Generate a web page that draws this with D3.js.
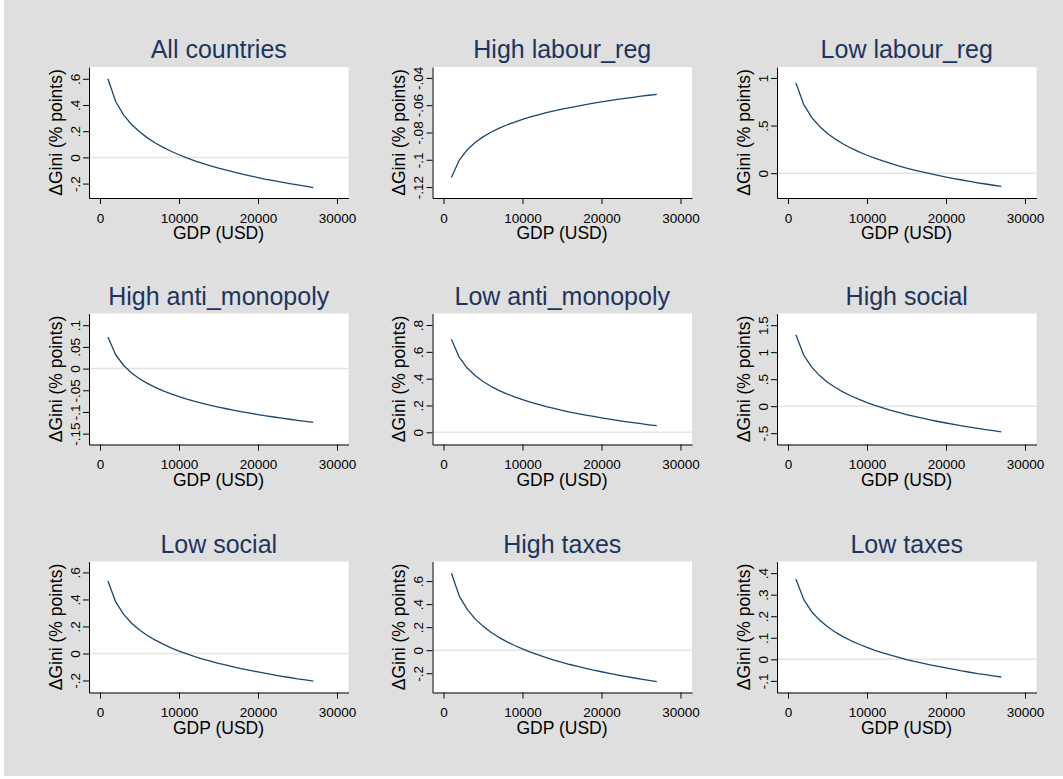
<!DOCTYPE html>
<html>
<head>
<meta charset="utf-8">
<style>
  body { margin: 0; background: #fff; }
  svg { display: block; font-family: Arial, "Liberation Sans", Helvetica, sans-serif; }
</style>
<script src="https://cdn.jsdelivr.net/npm/d3@7/dist/d3.min.js"></script>
</head>
<body>
<svg id="chart"></svg>
<script>
// panel titles, row by row
const titles = [
  "All countries", "High labour_reg", "Low labour_reg",
  "High anti_monopoly", "Low anti_monopoly", "High social",
  "Low social", "High taxes", "Low taxes"
]

const gdp = [1000, 2000, 3000, 4000, 5000, 6000, 7000, 8000, 9000, 10000,
  11000, 12000, 13000, 14000, 15000, 16000, 17000, 18000, 19000, 20000,
  21000, 22000, 23000, 24000, 25000, 26000, 27000]

// change in Gini
const allCountries = [0.600, 0.425, 0.323, 0.251, 0.195, 0.149, 0.110, 0.076, 0.047, 0.020,
  -0.004, -0.026, -0.046, -0.065, -0.082, -0.098, -0.113, -0.128, -0.141, -0.154,
  -0.167, -0.178, -0.189, -0.200, -0.210, -0.220, -0.230]
const highLabour = [-0.1130, -0.1002, -0.0927, -0.0874, -0.0832, -0.0798, -0.0770, -0.0745, -0.0724, -0.0704,
  -0.0686, -0.0670, -0.0655, -0.0642, -0.0629, -0.0617, -0.0606, -0.0595, -0.0585, -0.0576,
  -0.0567, -0.0558, -0.0550, -0.0542, -0.0534, -0.0527, -0.0520]
const lowLabour = [0.948, 0.719, 0.585, 0.491, 0.417, 0.357, 0.306, 0.262, 0.223, 0.188,
  0.157, 0.128, 0.102, 0.077, 0.054, 0.033, 0.013, -0.006, -0.024, -0.041,
  -0.057, -0.072, -0.087, -0.101, -0.114, -0.127, -0.140]
const highAntiMono = [0.0726, 0.0313, 0.0071, -0.0100, -0.0233, -0.0342, -0.0434, -0.0513, -0.0584, -0.0646,
  -0.0703, -0.0755, -0.0803, -0.0847, -0.0888, -0.0926, -0.0963, -0.0996, -0.1029, -0.1060,
  -0.1089, -0.1116, -0.1143, -0.1168, -0.1192, -0.1216, -0.1238]
const lowAntiMono = [0.694, 0.558, 0.479, 0.423, 0.379, 0.343, 0.313, 0.287, 0.264, 0.243,
  0.225, 0.208, 0.192, 0.178, 0.164, 0.151, 0.140, 0.128, 0.118, 0.108,
  0.098, 0.089, 0.080, 0.072, 0.064, 0.056, 0.049]
const highSocial = [1.321, 0.943, 0.722, 0.566, 0.444, 0.345, 0.261, 0.188, 0.124, 0.066,
  0.014, -0.033, -0.077, -0.117, -0.155, -0.190, -0.223, -0.254, -0.284, -0.312,
  -0.338, -0.364, -0.388, -0.411, -0.433, -0.455, -0.475]
const lowSocial = [0.536, 0.380, 0.289, 0.224, 0.174, 0.133, 0.099, 0.069, 0.042, 0.018,
  -0.003, -0.023, -0.041, -0.057, -0.073, -0.087, -0.101, -0.114, -0.126, -0.137,
  -0.148, -0.159, -0.169, -0.178, -0.188, -0.196, -0.205]
const highTaxes = [0.668, 0.470, 0.354, 0.272, 0.209, 0.156, 0.112, 0.074, 0.041, 0.011,
  -0.017, -0.041, -0.064, -0.086, -0.105, -0.124, -0.141, -0.157, -0.173, -0.187,
  -0.201, -0.215, -0.227, -0.239, -0.251, -0.262, -0.273]
const lowTaxes = [0.373, 0.277, 0.221, 0.182, 0.151, 0.126, 0.104, 0.086, 0.070, 0.055,
  0.042, 0.030, 0.019, 0.009, -0.001, -0.010, -0.018, -0.026, -0.033, -0.040,
  -0.047, -0.054, -0.060, -0.066, -0.071, -0.077, -0.082]

const series = [allCountries, highLabour, lowLabour, highAntiMono, lowAntiMono,
  highSocial, lowSocial, highTaxes, lowTaxes]

const yTicks = [
  [-0.2, 0, 0.2, 0.4, 0.6],
  [-0.12, -0.1, -0.08, -0.06, -0.04],
  [0, 0.5, 1],
  [-0.15, -0.1, -0.05, 0, 0.05, 0.1],
  [0, 0.2, 0.4, 0.6, 0.8],
  [-0.5, 0, 0.5, 1, 1.5],
  [-0.2, 0, 0.2, 0.4, 0.6],
  [-0.2, 0, 0.2, 0.4, 0.6],
  [-0.1, 0, 0.1, 0.2, 0.3, 0.4]
]

// y extent of each plot region (bottom, top)
const yRanges = [
  [-0.31, 0.69], [-0.128, -0.032], [-0.261, 1.115],
  [-0.175, 0.127], [-0.091, 0.886], [-0.71, 1.716],
  [-0.289, 0.681], [-0.367, 0.770], [-0.154, 0.454]
]

const xTicks = [0, 10000, 20000, 30000]
const xRange = [-1392, 31456]

const W = 1063, H = 779
const colLeft = [89, 432.5, 777]
const rowTop = [67, 313.5, 561.5]
const plotW = 259.5, plotH = 131

const titleColor = "#1c355e"
const lineColor = "#1a476f"

// Stata style numbers: .6, -.2, 1.5
function fmt(v) {
  const s = (+v.toFixed(4)).toString()
  return s.replace(/^(-?)0\./, "$1.")
}

const svg = d3.select("#chart")
  .attr("width", W)
  .attr("height", H)

svg.append("rect")
  .attr("x", 4)
  .attr("y", 0)
  .attr("width", W - 4)
  .attr("height", 776)
  .attr("fill", "#dfdfdf")

function panel(i) {
  const left = colLeft[i % 3]
  const top = rowTop[Math.floor(i / 3)]

  const x = d3.scaleLinear().domain(xRange).range([left, left + plotW])
  const y = d3.scaleLinear().domain(yRanges[i]).range([top + plotH, top])

  const g = svg.append("g").attr("class", "panel")

  g.append("rect")
    .attr("x", left)
    .attr("y", top)
    .attr("width", plotW)
    .attr("height", plotH)
    .attr("fill", "#fff")

  const [y0, y1] = yRanges[i]
  if (y0 < 0 && y1 > 0) {
    g.append("line")
      .attr("x1", left)
      .attr("x2", left + plotW)
      .attr("y1", y(0))
      .attr("y2", y(0))
      .attr("stroke", "#e4e4e4")
      .attr("stroke-width", 1.5)
  }

  const line = d3.line()
    .x(d => x(d[0]))
    .y(d => y(d[1]))

  g.append("path")
    .datum(gdp.map((v, j) => [v, series[i][j]]))
    .attr("fill", "none")
    .attr("stroke", lineColor)
    .attr("stroke-width", 1.3)
    .attr("stroke-linejoin", "round")
    .attr("d", line)

  // x axis
  const xAxis = g.append("g")
    .attr("transform", `translate(0, ${top + plotH})`)
    .call(d3.axisBottom(x)
      .tickValues(xTicks)
      .tickFormat(d3.format("d"))
      .tickSize(6)
      .tickSizeOuter(0)
      .tickPadding(9))
  xAxis.selectAll("text")
    .attr("font-size", 13.5)
    .attr("fill", "#000")
    .style("font-family", "Arial, 'Liberation Sans', sans-serif")

  // y axis, labels turned upright like Stata
  const yAxis = g.append("g")
    .attr("transform", `translate(${left}, 0)`)
    .call(d3.axisLeft(y)
      .tickValues(yTicks[i])
      .tickFormat(fmt)
      .tickSize(6)
      .tickSizeOuter(0))
  yAxis.selectAll("text")
    .attr("x", null)
    .attr("dy", null)
    .attr("text-anchor", "middle")
    .attr("transform", "translate(-9.5, 0) rotate(-90)")
    .attr("font-size", 13.5)
    .attr("fill", "#000")
    .style("font-family", "Arial, 'Liberation Sans', sans-serif")

  g.selectAll(".domain, .tick line").attr("stroke", "#000")

  g.append("text")
    .attr("x", left + plotW / 2)
    .attr("y", top - 9)
    .attr("text-anchor", "middle")
    .attr("font-size", 25)
    .attr("fill", titleColor)
    .text(titles[i])

  g.append("text")
    .attr("x", x(15000))
    .attr("y", top + plotH + 41)
    .attr("text-anchor", "middle")
    .attr("font-size", 17.5)
    .attr("fill", "#000")
    .text("GDP (USD)")

  g.append("text")
    .attr("transform", `translate(${left - 27.5}, ${top + plotH / 2}) rotate(-90)`)
    .attr("text-anchor", "middle")
    .attr("font-size", 17.5)
    .attr("fill", "#000")
    .text("ΔGini (% points)")
}

titles.forEach((t, i) => panel(i))
</script>
</body>
</html>
